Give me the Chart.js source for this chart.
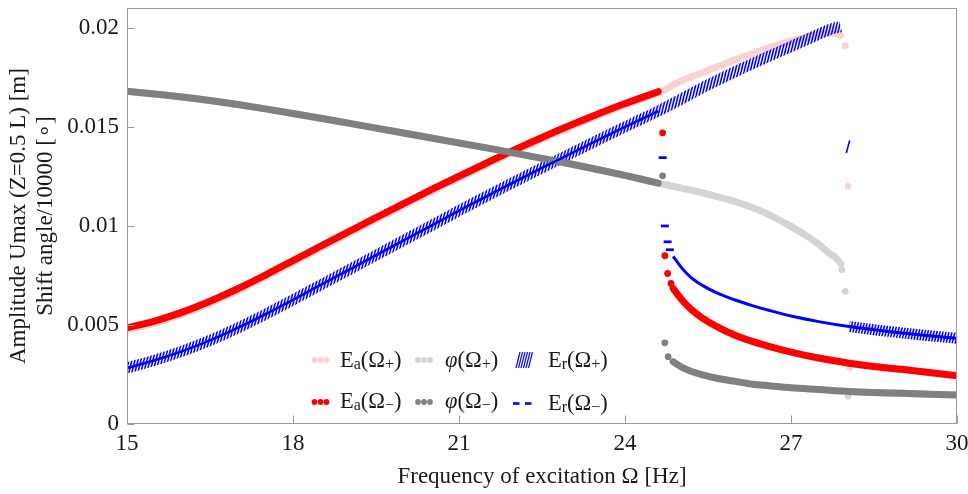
<!DOCTYPE html>
<html><head><meta charset="utf-8">
<script src="https://cdn.jsdelivr.net/npm/chart.js@4.4.1/dist/chart.umd.min.js"></script>
<style>
html,body{margin:0;padding:0;background:#fff;}
#wrap{position:relative;width:968px;height:494px;}
canvas{display:block;}
.lg{position:absolute;font-family:'Liberation Serif','Times New Roman',serif;font-size:22.5px;color:#1a1a1a;white-space:nowrap;line-height:22px;}
.lg sub{font-size:16px;vertical-align:-2px;line-height:0;}
</style></head><body>
<div id="wrap"><canvas id="c" width="968" height="494"></canvas></div>
<script>
// ---------------- data ----------------
// common branch (both sweeps), Ω from 15 to 24.6 Hz
const omegaA = [15,15.5,16,16.5,17,17.5,18,18.5,19,19.5,20,20.5,21,21.5,22,22.5,23,23.5,24,24.3,24.6];
const eaA     = [0.00485,0.0052,0.00565,0.0062,0.00683,0.00752,0.00825,0.00898,0.0097,0.01042,0.01113,0.01183,0.01251,0.01318,0.01384,0.01447,0.01507,0.01564,0.01618,0.01648,0.01678];
const eaPlusA = [0.00474,0.00509,0.00554,0.0061,0.00673,0.00742,0.00815,0.00888,0.0096,0.01032,0.01103,0.01173,0.01242,0.01309,0.01375,0.01438,0.01498,0.01556,0.0161,0.01641,0.01672];
const phiA = [0.0168,0.01666,0.01651,0.01633,0.01613,0.01591,0.01568,0.01544,0.01519,0.01494,0.01469,0.01444,0.01419,0.01394,0.01368,0.01341,0.01314,0.01285,0.01255,0.01236,0.01216];
const erA  = [0.00283,0.00322,0.00368,0.00422,0.00485,0.00554,0.00627,0.00702,0.00777,0.00852,0.00927,0.01002,0.01077,0.0115,0.01222,0.01293,0.01363,0.01432,0.015,0.0154,0.0158];

// upper branch (Ω+ sweep only), 24.6 .. 27.9 Hz
const omegaUp = [24.6,25,25.5,26,26.5,27,27.3,27.5,27.7,27.8,27.9];
const eaUp  = [0.01672,0.0173,0.01785,0.0184,0.0189,0.01935,0.01955,0.01966,0.01972,0.01972,0.01962];
const phiUp = [0.01216,0.01192,0.0116,0.01122,0.0107,0.00998,0.00946,0.00908,0.0086,0.00842,0.0081];
const erUp  = [0.0158,0.01638,0.01712,0.0178,0.01844,0.01906,0.01943,0.01968,0.01992,0.02,0.02006];

// lower branch (Ω− sweep; Ω+ joins it after 28 Hz), 24.87 .. 30 Hz
const omegaLow = [24.87,24.95,25.05,25.2,25.4,25.66,26,26.3,26.6,27,27.5,28.05,28.5,29,29.5,30];
const eaLow  = [0.00685,0.00655,0.0062,0.00578,0.00535,0.00492,0.00447,0.00417,0.00392,0.00363,0.00333,0.00307,0.0029,0.00276,0.0026,0.00244];
const phiLow = [0.00315,0.003,0.00283,0.00265,0.00248,0.00231,0.00215,0.00201,0.00193,0.00183,0.00174,0.00164,0.00159,0.00155,0.0015,0.00146];
const erLow  = [0.00847,0.00816,0.0078,0.00738,0.007,0.00662,0.00625,0.00598,0.00574,0.00545,0.00517,0.00492,0.00476,0.0046,0.00446,0.00433];

// jump-down points of the Ω+ sweep (near 28 Hz)
const eaJumpPlusX  = [27.98,28.03,28.06];
const eaJumpPlusY  = [0.0191,0.0120,0.00285];
const phiJumpPlusX = [27.92,27.98,28.03];
const phiJumpPlusY = [0.0078,0.0067,0.0014];
const erJumpPlusX  = [28.03];
const erJumpPlusY  = [0.0140];

// jump-up points of the Ω− sweep (near 24.7 Hz)
const eaJumpMinusX  = [24.68,24.72,24.77,24.83];
const eaJumpMinusY  = [0.0147,0.0085,0.0076,0.0071];
const phiJumpMinusX = [24.68,24.72,24.78];
const phiJumpMinusY = [0.01253,0.0041,0.0034];
const erJumpMinusX  = [24.68,24.72,24.77,24.81];
const erJumpMinusY  = [0.01345,0.0100,0.0092,0.0088];

const xTicks = [15,18,21,24,27,30];
const yTicks = [0,0.005,0.01,0.015,0.02];
const yTickLabels = ['0','0.005','0.01','0.015','0.02'];
const xTitle = 'Frequency of excitation Ω [Hz]';
const yTitle = ['Amplitude Umax (Z=0.5 L) [m]','Shift angle/10000 [∘]'];

// ---------------- styling ----------------
const FONT = "'Liberation Serif','Times New Roman',serif";
const FS = 23;
const C = {pink:'#fbd2d2', red:'#ff0000', lgrey:'#d4d4d4', dgrey:'#808080', blue:'#0000ff', frame:'#9a9a9a', text:'#1a1a1a'};

const pts = (xs, ys) => xs.map((x,i)=>({x:x, y:ys[i]}));
const join = (a, b) => a.concat(b);
const fromLowAbove = (ys, x0) => pts(omegaLow, ys).filter(p => p.x >= x0);

function hatchPattern(color){
  const w = 3, h = 12;
  const t = document.createElement('canvas'); t.width = w; t.height = h;
  const g = t.getContext('2d'); g.strokeStyle = color; g.lineWidth = 1.6;
  for (let k=-1;k<=1;k++){ g.beginPath(); g.moveTo(k*w, h); g.lineTo(k*w+w, 0); g.stroke(); }
  return g.createPattern(t, 'repeat');
}
const HATCH = hatchPattern(C.blue);

function band(data, color, width, order, cap){
  return {data, showLine:true, borderColor:color, borderWidth:width, pointRadius:0, pointHoverRadius:0,
    borderCapStyle:cap||'round', borderJoinStyle:'round', cubicInterpolationMode:'monotone', clip:0, order};
}
function dots(data, color, r, order){
  return {data, showLine:false, pointRadius:r, pointHoverRadius:r, backgroundColor:color,
    pointBackgroundColor:color, pointBorderWidth:0, borderWidth:0, clip:0, order};
}
function marks(data, color, r, rot, w, order){
  return {data, showLine:false, pointStyle:'line', pointRadius:r, pointHoverRadius:r, pointRotation:rot,
    pointBorderColor:color, borderColor:color, pointBorderWidth:w, clip:0, order};
}

const datasets = [
  // Ea(Ω+)  (bottom layer)
  band(join(pts(omegaA, eaPlusA), pts(omegaUp, eaUp).slice(1)), C.pink, 7, 60),
  dots(pts(eaJumpPlusX, eaJumpPlusY), C.pink, 3.4, 60),
  band(fromLowAbove(eaLow, 28.05), C.pink, 7, 60),
  // φ(Ω+)
  band(join(pts(omegaA, phiA), pts(omegaUp, phiUp).slice(1)), C.lgrey, 7, 50),
  dots(pts(phiJumpPlusX, phiJumpPlusY), C.lgrey, 3.4, 50),
  band(fromLowAbove(phiLow, 28.05), C.lgrey, 7, 50),
  // Er(Ω+) hatched
  band(join(pts(omegaA, erA), pts(omegaUp, erUp).slice(1)), HATCH, 11, 40, 'butt'),
  marks(pts(erJumpPlusX, erJumpPlusY), C.blue, 6.5, -75, 1.6, 40),
  band(fromLowAbove(erLow, 28.05), HATCH, 11, 40, 'butt'),
  // Ea(Ω−)
  band(pts(omegaA, eaA), C.red, 7, 30),
  dots(pts(eaJumpMinusX, eaJumpMinusY), C.red, 3.4, 30),
  band(pts(omegaLow, eaLow), C.red, 7, 30),
  // φ(Ω−)
  band(pts(omegaA, phiA), C.dgrey, 7, 20),
  dots(pts(phiJumpMinusX, phiJumpMinusY), C.dgrey, 3.4, 20),
  band(pts(omegaLow, phiLow), C.dgrey, 7, 20),
  // Er(Ω−) dashes
  band(pts(omegaA, erA), C.blue, 2.6, 10, 'butt'),
  marks(pts(erJumpMinusX, erJumpMinusY), C.blue, 4, 0, 2.7, 10),
  band(pts(omegaLow, erLow), C.blue, 3, 10, 'butt'),
];

const framePlugin = {
  id:'frame',
  afterDatasetsDraw(chart){
    const {ctx, chartArea:a, scales:{x, y}} = chart;
    ctx.save();
    ctx.strokeStyle = C.frame; ctx.lineWidth = 1;
    const L = Math.round(a.left)+0.5, R = Math.round(a.right)-0.5, T = Math.round(a.top)+0.5, B = Math.round(a.bottom)-0.5;
    ctx.strokeRect(L, T, R-L, B-T);
    ctx.beginPath();
    xTicks.forEach(v => { const px = Math.round(x.getPixelForValue(v))+0.5; ctx.moveTo(px, B); ctx.lineTo(px, B-8); });
    yTicks.forEach(v => { const py = Math.round(y.getPixelForValue(v))+0.5; ctx.moveTo(L, py); ctx.lineTo(L+7, py); });
    ctx.stroke();
    ctx.restore();
  }
};

new Chart(document.getElementById('c'), {
  type:'scatter',
  data:{datasets},
  options:{
    responsive:false, animation:false, devicePixelRatio:1,
    layout:{padding:{left:0, right:11, top:8, bottom:0}},
    plugins:{legend:{display:false}, tooltip:{enabled:false}},
    scales:{
      x:{type:'linear', min:15, max:30,
        afterBuildTicks:s=>{ s.ticks = xTicks.map(v=>({value:v})); },
        afterFit:s=>{ s.height = 70; s.paddingLeft = 0; s.paddingRight = 0; },
        grid:{display:false, drawTicks:false}, border:{display:false},
        ticks:{padding:6, maxRotation:0, autoSkip:false, color:C.text, font:{family:FONT, size:FS}, callback:v=>String(v)},
        title:{display:true, text:xTitle, color:C.text, font:{family:FONT, size:FS}, padding:{top:0, bottom:3}}},
      y:{type:'linear', min:0, max:0.021,
        afterBuildTicks:s=>{ s.ticks = yTicks.map(v=>({value:v})); },
        afterFit:s=>{ s.width = 127; s.paddingTop = 0; s.paddingBottom = 0; },
        grid:{display:false, drawTicks:false}, border:{display:false},
        ticks:{padding:8, color:C.text, font:{family:FONT, size:FS}, callback:(v,i)=>yTickLabels[i]},
        title:{display:true, text:yTitle, color:C.text, font:{family:FONT, size:FS, lineHeight:1.15}, padding:{top:6, bottom:0}}}
    }
  },
  plugins:[framePlugin]
});

// ---------------- legend (HTML text + SVG markers) ----------------
const legendRows = [
  [{html:'E<sub>a</sub>(Ω<sub>+</sub>)', left:340, top:349}, {html:'<i>φ</i>(Ω<sub>+</sub>)', left:445, top:349}, {html:'E<sub>r</sub>(Ω<sub>+</sub>)', left:548, top:349}],
  [{html:'E<sub>a</sub>(Ω<sub>−</sub>)', left:340, top:390}, {html:'<i>φ</i>(Ω<sub>−</sub>)', left:445, top:390}, {html:'E<sub>r</sub>(Ω<sub>−</sub>)', left:548, top:392}]
];
const wrap = document.getElementById('wrap');
legendRows.flat().forEach(it => { const d = document.createElement('div'); d.className='lg'; d.style.left=it.left+'px'; d.style.top=it.top+'px'; d.innerHTML=it.html; wrap.appendChild(d); });
let svg = '<svg xmlns="http://www.w3.org/2000/svg" width="968" height="494" style="position:absolute;left:0;top:0;pointer-events:none">';
const threeDots = (x0, cy, col) => [0,6,12].map(dx => `<circle cx="${x0+dx}" cy="${cy}" r="2.9" fill="${col}"/>`).join('');
svg += threeDots(314.5, 360, C.pink) + threeDots(418, 360, C.lgrey) + threeDots(314.5, 402, C.red) + threeDots(418, 402, C.dgrey);
for (let i=0;i<6;i++){ const x = 516 + i*2.5; svg += `<line x1="${x}" y1="368" x2="${x+4}" y2="352" stroke="${C.blue}" stroke-width="1.2"/>`; }
svg += `<line x1="513" y1="403.5" x2="519.5" y2="403.5" stroke="${C.blue}" stroke-width="2.6"/><line x1="525" y1="403.5" x2="531.5" y2="403.5" stroke="${C.blue}" stroke-width="2.6"/>`;
svg += '</svg>';
wrap.insertAdjacentHTML('beforeend', svg);
</script>
</body></html>
